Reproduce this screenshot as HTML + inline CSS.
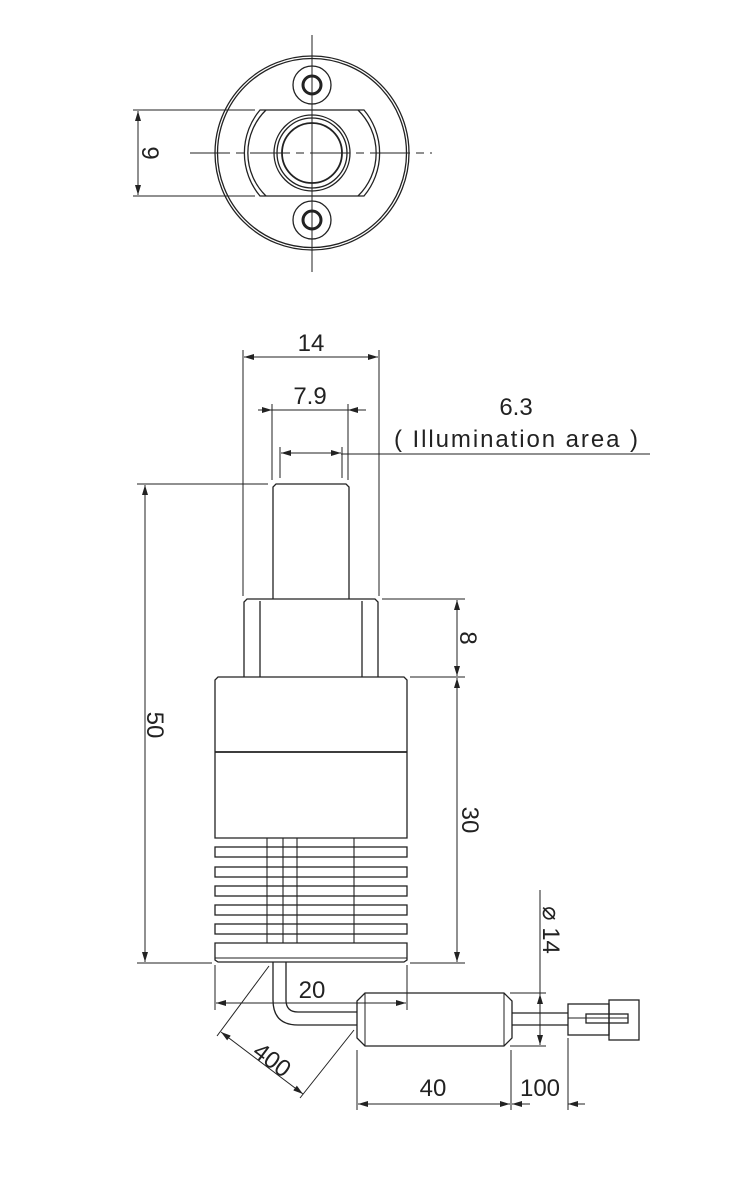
<!DOCTYPE html>
<html><head><meta charset="utf-8"><style>
html,body{margin:0;padding:0;background:#fff;}
svg{display:block}
text{font-family:"Liberation Sans",sans-serif;fill:#222;}
</style></head><body>
<svg width="742" height="1186" viewBox="0 0 742 1186" xmlns="http://www.w3.org/2000/svg">
<defs>
<marker id="a" viewBox="0 0 10 6" refX="10" refY="3" markerWidth="10" markerHeight="6" orient="auto-start-reverse" markerUnits="userSpaceOnUse"><path d="M0,0 L10,3 L0,6 z" fill="#222"/></marker>
</defs>
<g stroke="#222" stroke-width="1.3" fill="none">
<line x1="312" y1="35" x2="312" y2="272" stroke-width="1"/>
<line x1="190" y1="153" x2="432" y2="153" stroke-width="1" stroke-dasharray="40,6,8,6"/>
<circle cx="312" cy="153" r="97"/>
<circle cx="312" cy="153" r="94.5"/>
<path d="M260,110 L364,110 A67,67 0 0 1 364,196 L260,196 A67,67 0 0 1 260,110 Z"/>
<path d="M266,110 A60,60 0 0 0 266,196 M358,110 A60,60 0 0 1 358,196"/>
<circle cx="312" cy="153" r="38"/>
<circle cx="312" cy="153" r="35"/>
<circle cx="312" cy="153" r="30" stroke-width="1.8"/>
<circle cx="312" cy="85" r="19"/>
<circle cx="312" cy="85" r="9" stroke-width="3"/>
<circle cx="312" cy="220" r="19"/>
<circle cx="312" cy="220" r="9" stroke-width="3"/>
<line x1="133" y1="110" x2="255" y2="110" stroke-width="1"/>
<line x1="133" y1="196" x2="255" y2="196" stroke-width="1"/>
<line x1="138" y1="111" x2="138" y2="195" stroke-width="1" marker-start="url(#a)" marker-end="url(#a)"/>

<path d="M273,599 L273,487 L276,484 L346,484 L349,487 L349,599"/>
<path d="M244,677 L244,602 L247,599 L375,599 L378,602 L378,677"/>
<line x1="260" y1="601" x2="260" y2="677"/><line x1="362" y1="601" x2="362" y2="677"/>
<path d="M215,838 L215,680 L218,677 L404,677 L407,680 L407,838 Z"/>
<line x1="215" y1="752" x2="407" y2="752" stroke-width="1.8"/>
<rect x="215" y="847" width="192" height="10"/>
<rect x="215" y="867" width="192" height="10"/>
<rect x="215" y="886" width="192" height="10"/>
<rect x="215" y="905" width="192" height="10"/>
<rect x="215" y="924" width="192" height="10"/>
<path d="M215,943 L407,943 L407,960 L404,962 L218,962 L215,960 Z"/>
<line x1="215" y1="958" x2="407" y2="958" stroke-width="1"/>
<g stroke-width="1.1">
<line x1="267" y1="838" x2="267" y2="943"/><line x1="283" y1="838" x2="283" y2="943"/>
<line x1="297" y1="838" x2="297" y2="943"/><line x1="354" y1="838" x2="354" y2="943"/>
</g>
<path d="M273,962 L273,1000 Q273,1025 298,1025 L357,1025"/>
<path d="M286,962 L286,1000 Q286,1012 298,1012 L357,1012"/>
<path d="M365,993 L504,993 L512,1001 L512,1038 L504,1046 L365,1046 L357,1038 L357,1001 Z"/>
<line x1="365" y1="993" x2="365" y2="1046" stroke-width="1"/>
<line x1="504" y1="993" x2="504" y2="1046" stroke-width="1"/>
<line x1="512" y1="1013" x2="568" y2="1013"/><line x1="512" y1="1025" x2="568" y2="1025"/>
<rect x="568" y="1004" width="41" height="31"/>
<rect x="609" y="1000" width="30" height="40"/>
<rect x="586" y="1014" width="42" height="9"/>
<line x1="568" y1="1018" x2="628" y2="1018" stroke-width="1"/>

<g stroke-width="1">
<line x1="243" y1="350" x2="243" y2="596"/><line x1="379" y1="350" x2="379" y2="596"/>
<line x1="244" y1="357" x2="378" y2="357" marker-start="url(#a)" marker-end="url(#a)"/>
<line x1="272" y1="404" x2="272" y2="480"/><line x1="348" y1="404" x2="348" y2="480"/>
<line x1="258" y1="410" x2="272" y2="410" marker-end="url(#a)"/>
<line x1="272" y1="410" x2="348" y2="410"/>
<line x1="366" y1="410" x2="348" y2="410" marker-end="url(#a)"/>
<line x1="280" y1="447" x2="280" y2="478"/><line x1="342" y1="447" x2="342" y2="478"/>
<line x1="281" y1="453" x2="341" y2="453" marker-start="url(#a)" marker-end="url(#a)"/>
<line x1="341" y1="454" x2="650" y2="454"/>
<line x1="137" y1="484" x2="268" y2="484"/>
<line x1="137" y1="963" x2="212" y2="963"/>
<line x1="145" y1="485" x2="145" y2="962" marker-start="url(#a)" marker-end="url(#a)"/>
<line x1="382" y1="599" x2="465" y2="599"/>
<line x1="410" y1="677" x2="465" y2="677"/>
<line x1="410" y1="963" x2="465" y2="963"/>
<line x1="457" y1="600" x2="457" y2="676" marker-start="url(#a)" marker-end="url(#a)"/>
<line x1="457" y1="678" x2="457" y2="962" marker-start="url(#a)" marker-end="url(#a)"/>
<line x1="215" y1="965" x2="215" y2="1010"/><line x1="407" y1="965" x2="407" y2="1010"/>
<line x1="216" y1="1003" x2="406" y2="1003" marker-start="url(#a)" marker-end="url(#a)"/>
<line x1="269" y1="966" x2="217" y2="1036"/>
<line x1="354" y1="1030" x2="300" y2="1098"/>
<line x1="221" y1="1032" x2="303" y2="1094" marker-start="url(#a)" marker-end="url(#a)"/>
<line x1="510" y1="993" x2="546" y2="993"/>
<line x1="510" y1="1046" x2="546" y2="1046"/>
<line x1="540" y1="890" x2="540" y2="994"/>
<line x1="540" y1="994" x2="540" y2="1045" marker-start="url(#a)" marker-end="url(#a)"/>
<line x1="357" y1="1050" x2="357" y2="1110"/>
<line x1="511" y1="1050" x2="511" y2="1110"/>
<line x1="568" y1="1038" x2="568" y2="1110"/>
<line x1="358" y1="1104" x2="510" y2="1104" marker-start="url(#a)" marker-end="url(#a)"/>
<line x1="512" y1="1104" x2="530" y2="1104" marker-start="url(#a)"/>
<line x1="585" y1="1104" x2="568" y2="1104" marker-end="url(#a)"/>
</g>
</g>
<g font-size="24">
<text x="150" y="153" text-anchor="middle" transform="rotate(90 150 153)" dy="8">9</text>
<text x="311" y="351" text-anchor="middle">14</text>
<text x="310" y="404" text-anchor="middle">7.9</text>
<text x="516" y="415" text-anchor="middle">6.3</text>
<text x="394" y="447" textLength="244" lengthAdjust="spacing">( Illumination area )</text>
<text x="155" y="725" text-anchor="middle" transform="rotate(90 155 725)" dy="8">50</text>
<text x="468" y="638" text-anchor="middle" transform="rotate(90 468 638)" dy="8">8</text>
<text x="470" y="820" text-anchor="middle" transform="rotate(90 470 820)" dy="8">30</text>
<text x="312" y="998" text-anchor="middle">20</text>
<text x="272" y="1060" text-anchor="middle" transform="rotate(37 272 1060)" dy="8">400</text>
<text x="551" y="930" text-anchor="middle" transform="rotate(90 551 930)" dy="8">⌀ 14</text>
<text x="433" y="1096" text-anchor="middle">40</text>
<text x="540" y="1096" text-anchor="middle">100</text>
</g>
</svg>
</body></html>
